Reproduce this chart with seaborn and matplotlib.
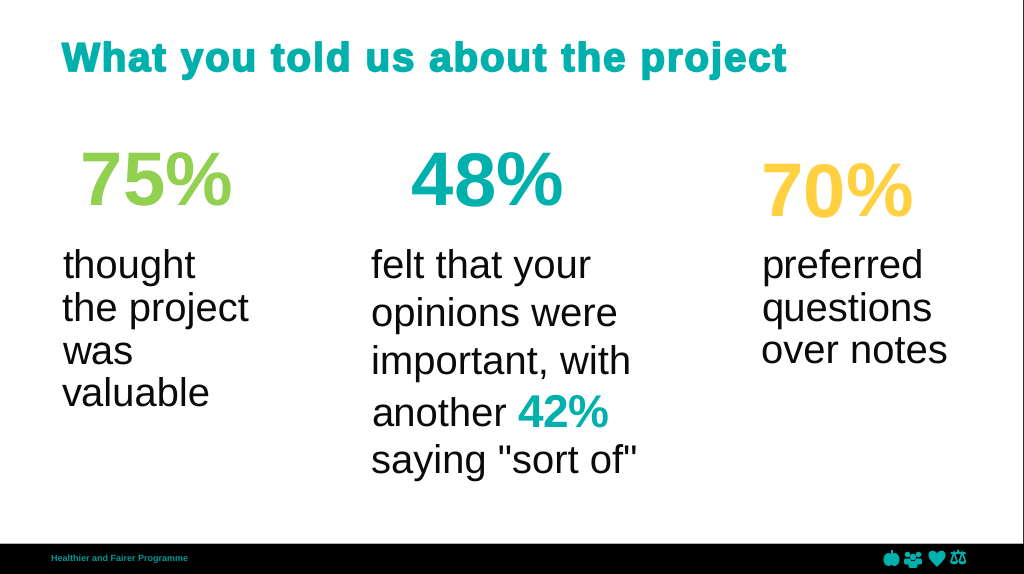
import matplotlib.pyplot as plt
import matplotlib.patheffects as pe
from matplotlib.patches import Circle, Ellipse, FancyBboxPatch, PathPatch, Rectangle
from matplotlib.path import Path
import seaborn as sns

sns.set_theme(style='white')
plt.rcParams['font.family'] = ['Liberation Sans', 'DejaVu Sans']
plt.rcParams['text.hinting'] = 'no_hinting'
plt.rcParams['text.hinting_factor'] = 1

TEAL = '#00b0ad'
GREEN = '#92d050'
YELLOW = '#ffd03f'

title = 'What you told us about the project'
footer = 'Healthier and Fairer Programme'

# the three headline numbers
percents = ['75%', '48%', '70%']
percent_colors = [GREEN, TEAL, YELLOW]
percent_x = [80, 411, 761]
percent_y = [205, 205, 216]

caption_x = [62, 371, 761]
caption_lines = [
    ['thought', 'the project', 'was', 'valuable'],
    ['felt that your', 'opinions were', 'important, with', 'another', 'saying "sort of"'],
    ['preferred', 'questions', 'over notes'],
]
caption_y = [
    [279, 322, 364, 407],
    [279, 327, 375, 427, 474],
    [279, 322, 364],
]

fig = plt.figure(figsize=(10.24, 5.74), dpi=100)
ax = fig.add_axes([0, 0, 1, 1])
ax.set_xlim(0, 1024)
ax.set_ylim(574, 0)
ax.axis('off')


# matplotlib has no letter spacing or kerning switch, so these go down one character at a time
def spaced_text(x, y, txt, spacing, stroke=0, **kw):
    renderer = fig.canvas.get_renderer()
    probe = ax.text(0, 0, '|', **kw)
    w_bar = probe.get_window_extent(renderer).width
    for ch in txt:
        t = ax.text(x, y, ch, **kw)
        if stroke:
            t.set_path_effects([pe.withStroke(linewidth=stroke, foreground=kw['color'])])
        probe.set_text(ch + '|')
        x += probe.get_window_extent(renderer).width - w_bar + spacing
    probe.remove()


spaced_text(62, 71, title, 2.0, stroke=1.3, color=TEAL, fontsize=29, fontweight='bold')

for txt, col, x, y in zip(percents, percent_colors, percent_x, percent_y):
    spaced_text(x, y, txt, 0, color=col, fontsize=54.5, fontweight='bold')

for x, lines, ys in zip(caption_x, caption_lines, caption_y):
    for line, y in zip(lines, ys):
        ax.text(x, y, line, color='#0a0a0a', fontsize=28.5)

# inline highlighted number in the middle column
spaced_text(517, 427, '42%', 0, color=TEAL, fontsize=33, fontweight='bold')

# footer band
ax.add_patch(Rectangle((0, 544), 1024, 30, color='black', lw=0))
ax.add_patch(Rectangle((0, 543), 1024, 1, color='#b0b0b0', lw=0))
ax.add_patch(Rectangle((1022.5, 0), 1.5, 544, color='#303030', lw=0))
ax.text(51, 561, footer, color='#009a98', fontsize=6.2, fontweight='bold')

# icons: apple
ax.add_patch(Ellipse((888.5, 559.5), 10, 13, color=TEAL, lw=0))
ax.add_patch(Ellipse((894.5, 559.5), 10, 13, color=TEAL, lw=0))
ax.add_patch(Rectangle((890.5, 550), 2, 4, color=TEAL, lw=0))
# icons: people
for cx, cy, r, bx, by, bw, bh in [(907.5, 554.5, 2.8, 904, 558.5, 7, 6),
                                   (918.5, 554.5, 2.8, 915, 558.5, 7, 6),
                                   (913, 557, 3.2, 908.5, 561, 9, 7)]:
    ax.add_patch(Circle((cx, cy), r, color=TEAL, lw=0))
    ax.add_patch(FancyBboxPatch((bx, by), bw, bh, boxstyle='round,pad=0,rounding_size=2',
                                color=TEAL, lw=0))
# icons: heart
heart = Path([(937, 567), (931, 561), (928.5, 559), (928.5, 555),
              (928.5, 549.5), (935, 549.5), (937, 553.5),
              (939, 549.5), (945.5, 549.5), (945.5, 555),
              (945.5, 559), (943, 561), (937, 567)],
             [Path.MOVETO] + [Path.CURVE4] * 12)
ax.add_patch(PathPatch(heart, color=TEAL, lw=0))
# icons: scales
ax.text(958, 558.5, '\u2696', color=TEAL, fontsize=14, family='DejaVu Sans',
        ha='center', va='center',
        path_effects=[pe.withStroke(linewidth=0.6, foreground=TEAL)])

fig.savefig('out.png', dpi=100)
